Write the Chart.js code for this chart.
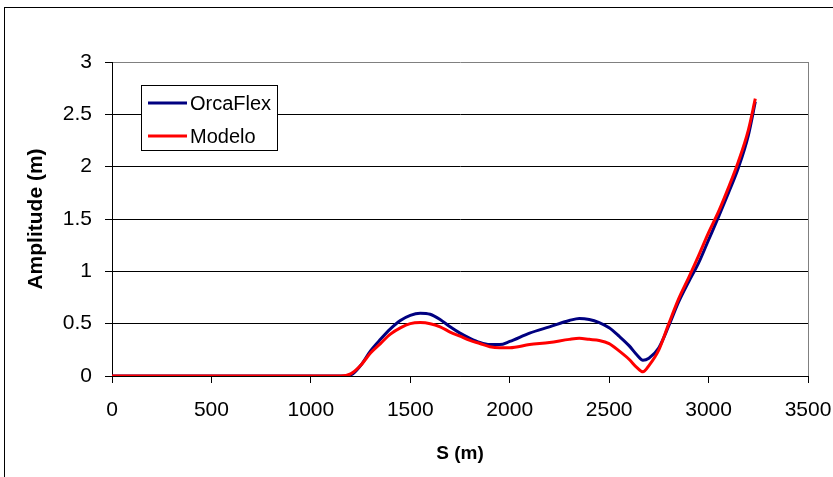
<!DOCTYPE html>
<html>
<head>
<meta charset="utf-8">
<script src="https://cdn.jsdelivr.net/npm/chart.js@4.4.0/dist/chart.umd.min.js"></script>
<style>
  html, body { margin: 0; padding: 0; background: #fff; }
  #wrap { position: relative; width: 833px; height: 477px; overflow: hidden; }
  #frame { position: absolute; left: 4px; top: 7px; width: 900px; height: 500px; border: 1px solid #000; box-sizing: border-box; }
  #chart { position: absolute; left: 0; top: 0; }
</style>
</head>
<body>
<div id="wrap">
  <div id="frame"></div>
  <canvas id="chart" width="833" height="477"></canvas>
</div>
<script>
// #### DATA ####
let sValues = [0, 500, 1000, 1150, 1200, 1250, 1300, 1350, 1400, 1450, 1500, 1550, 1600, 1650, 1700, 1750, 1800, 1850, 1900, 1950, 2000, 2100, 2200, 2300, 2350, 2400, 2450, 2500, 2550, 2600, 2640, 2670, 2700, 2750, 2800, 2850, 2900, 2950, 3000, 3050, 3100, 3150, 3200, 3235];
let orcaflex = [0, 0, 0, 0, 0.01, 0.1, 0.24, 0.35, 0.45, 0.53, 0.58, 0.6, 0.59, 0.54, 0.47, 0.41, 0.36, 0.32, 0.3, 0.3, 0.33, 0.41, 0.47, 0.53, 0.55, 0.54, 0.51, 0.46, 0.38, 0.29, 0.2, 0.15, 0.17, 0.27, 0.48, 0.71, 0.9, 1.08, 1.3, 1.52, 1.75, 1.99, 2.3, 2.62];
let modelo = [0, 0, 0, 0, 0.02, 0.1, 0.22, 0.31, 0.4, 0.46, 0.5, 0.51, 0.5, 0.47, 0.42, 0.38, 0.34, 0.31, 0.28, 0.27, 0.27, 0.3, 0.32, 0.35, 0.36, 0.35, 0.34, 0.31, 0.24, 0.16, 0.08, 0.04, 0.1, 0.25, 0.5, 0.74, 0.94, 1.15, 1.37, 1.57, 1.8, 2.05, 2.35, 2.65];
let seriesNames = ["OrcaFlex", "Modelo"];
let xTitle = "S (m)";
let yTitle = "Amplitude (m)";

let toPoints = (ys) => sValues.map((s, i) => ({x: s, y: ys[i]}));

// legend box drawn inside the plot, like the original
let boxLegend = {
    id: 'boxLegend',
    afterDraw(chart) {
        let ctx = chart.ctx;
        ctx.save();
        ctx.fillStyle = '#fff';
        ctx.fillRect(141, 85, 136, 65);
        ctx.strokeStyle = '#000';
        ctx.lineWidth = 1;
        ctx.strokeRect(141.5, 85.5, 136, 65);
        ctx.font = '20px "Liberation Sans", Arial, sans-serif';
        ctx.textBaseline = 'middle';
        let rows = [103, 136];
        for (let i = 0; i < seriesNames.length; i++) {
            let ds = chart.data.datasets.find(d => d.label === seriesNames[i]);
            ctx.strokeStyle = ds.borderColor;
            ctx.lineWidth = 3;
            ctx.beginPath();
            ctx.moveTo(148, rows[i]);
            ctx.lineTo(187, rows[i]);
            ctx.stroke();
            ctx.fillStyle = '#000';
            ctx.fillText(seriesNames[i], 190, rows[i] + 1);
        }
        ctx.restore();
    }
};

let tickFont = {family: '"Liberation Sans", Arial, sans-serif', size: 21};

new Chart(document.getElementById("chart").getContext("2d"), {
    type: 'line',
    data: {
        datasets: [
            {label: seriesNames[0], data: toPoints(orcaflex), borderColor: '#000080', borderWidth: 3, pointRadius: 0, cubicInterpolationMode: 'monotone', order: 1},
            {label: seriesNames[1], data: toPoints(modelo), borderColor: '#ff0000', borderWidth: 3, pointRadius: 0, cubicInterpolationMode: 'monotone', order: 0}
        ]
    },
    options: {
        responsive: false,
        animation: false,
        layout: {padding: {left: 0, right: 25, top: 62, bottom: 0}},
        plugins: {legend: {display: false}, tooltip: {enabled: false}},
        scales: {
            x: {
                type: 'linear', min: 0, max: 3500,
                afterFit: (scale) => { scale.height = 101; scale.paddingLeft = 0; scale.paddingRight = 0; },
                ticks: {stepSize: 500, color: '#000', font: tickFont, padding: 15, maxRotation: 0, callback: (v) => String(v)},
                grid: {
                    color: (c) => c.tick && c.tick.value === 3500 ? '#808080' : 'rgba(0,0,0,0)',
                    tickColor: '#000', tickLength: 7, lineWidth: 1
                },
                border: {color: '#000', width: 1},
                title: {display: true, text: xTitle, color: '#000', font: {family: '"Liberation Sans", Arial, sans-serif', size: 19, weight: 'bold'}, padding: {top: 0, bottom: 12}}
            },
            y: {
                min: 0, max: 3,
                afterFit: (scale) => { scale.width = 112; scale.paddingTop = 0; scale.paddingBottom = 0; },
                ticks: {stepSize: 0.5, color: '#000', font: tickFont, padding: 13, callback: (v) => String(v)},
                grid: {
                    color: (c) => c.tick && c.tick.value === 3 ? '#808080' : '#000',
                    tickColor: '#000', tickLength: 7, lineWidth: 1
                },
                border: {color: '#000', width: 1},
                title: {display: true, text: yTitle, color: '#000', font: {family: '"Liberation Sans", Arial, sans-serif', size: 21, weight: 'bold'}, padding: {top: 24, bottom: 0}}
            }
        }
    },
    plugins: [boxLegend]
});
</script>
</body>
</html>
